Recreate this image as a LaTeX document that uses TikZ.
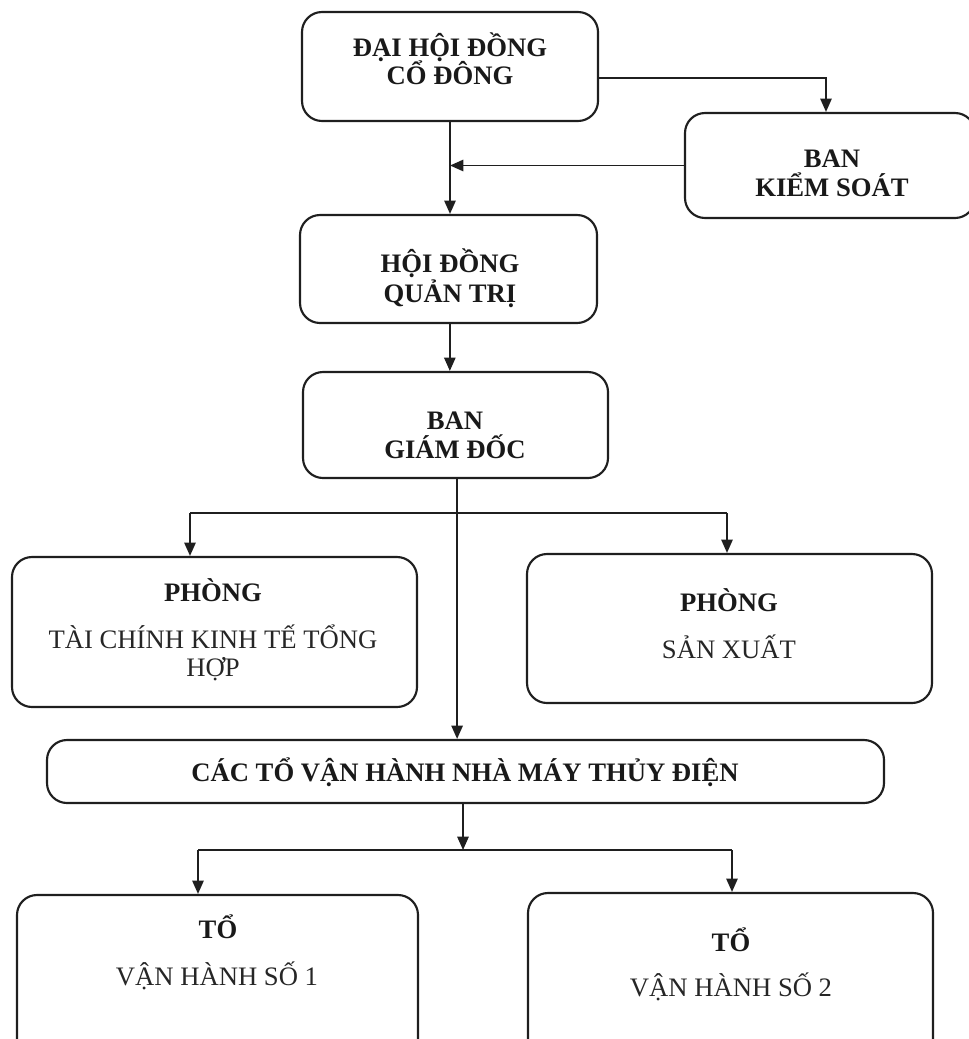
\documentclass[tikz,border=0pt]{standalone}
\usepackage{fontspec}
\setmainfont{Liberation Serif}
\usetikzlibrary{arrows.meta,calc}
\begin{document}
\begin{tikzpicture}[x=0.75pt,y=-0.75pt,
  box/.style={draw=black!88,line width=1.6pt,rounded corners=15pt,inner sep=0pt},
  hd/.style={font=\fontsize{20}{22}\selectfont\bfseries,anchor=base,inner sep=0pt,text=black!90},
  lbl/.style={font=\fontsize{20}{22}\selectfont,anchor=base,inner sep=0pt,text=black!85},
  arr/.style={line width=1.3pt,draw=black!88,-{Triangle[length=10pt,width=8.5pt]}},
  ln/.style={line width=1.3pt,draw=black!88}]
\useasboundingbox (0,0) rectangle (968,1039);
% boxes
\node[box,minimum width=296*0.75pt,minimum height=109*0.75pt] (dh) at (450,66.5) {};
\node[hd] (dh1) at (450,56) {ĐẠI HỘI ĐỒNG};
\node[hd] (dh2) at (450,84) {CỔ ĐÔNG};
\node[box,minimum width=290*0.75pt,minimum height=105*0.75pt] (bks) at (830,165.5) {};
\node[hd] (bks1) at (832,167) {BAN};
\node[hd] (bks2) at (832,196) {KIỂM SOÁT};
\node[box,minimum width=297*0.75pt,minimum height=108*0.75pt] (hdqt) at (448.5,269) {};
\node[hd] (hdqt1) at (450,272) {HỘI ĐỒNG};
\node[hd] (hdqt2) at (450,302) {QUẢN TRỊ};
\node[box,minimum width=305*0.75pt,minimum height=106*0.75pt] (bgd) at (455.5,425) {};
\node[hd] (bgd1) at (455,429) {BAN};
\node[hd] (bgd2) at (455,458) {GIÁM ĐỐC};
\node[box,minimum width=405*0.75pt,minimum height=150*0.75pt] (ptc) at (214.5,632) {};
\node[hd] (ptc1) at (213,601) {PHÒNG};
\node[lbl] (ptc2) at (213,648) {TÀI CHÍNH KINH TẾ TỔNG};
\node[lbl] (ptc3) at (213,676) {HỢP};
\node[box,minimum width=405*0.75pt,minimum height=149*0.75pt] (psx) at (729.5,628.5) {};
\node[hd] (psx1) at (729,611) {PHÒNG};
\node[lbl] (psx2) at (729,658) {SẢN XUẤT};
\node[box,minimum width=837*0.75pt,minimum height=63*0.75pt] (cac) at (465.5,771.5) {};
\node[hd] (cac1) at (465,781) {CÁC TỔ VẬN HÀNH NHÀ MÁY THỦY ĐIỆN};
\node[box,minimum width=401*0.75pt,minimum height=165*0.75pt] (t1) at (217.5,977.5) {};
\node[hd] (t11) at (218,938) {TỔ};
\node[lbl] (t12) at (217,985) {VẬN HÀNH SỐ 1};
\node[box,minimum width=405*0.75pt,minimum height=167*0.75pt] (t2) at (730.5,976.5) {};
\node[hd] (t21) at (731,951) {TỔ};
\node[lbl] (t22) at (731,996) {VẬN HÀNH SỐ 2};
% connectors
\draw[arr] ([yshift=-8.6pt]dh.east) -| ([xshift=-3pt]bks.north);
\draw[arr] (dh.south) -- (dh.south |- hdqt.north);
\draw[arr] (bks.west) -- (bks.west -| dh.south);
\draw[arr] ([xshift=1pt]hdqt.south) -- ([xshift=1pt]hdqt.south |- bgd.north);
\draw[arr] ([xshift=1.2pt]bgd.south) -- ([xshift=1.2pt]bgd.south |- cac.north);
\coordinate (br1) at (190,513);
\coordinate (br2) at (727,513);
\draw[ln] (br1) -- (br2);
\draw[arr] (br1) -- (br1 |- ptc.north);
\draw[arr] (br2) -- (br2 |- psx.north);
\coordinate (sp1) at (198,850);
\coordinate (sp2) at (732,850);
\coordinate (spm) at (463,850);
\draw[arr] (cac.south -| spm) -- (spm);
\draw[ln] (sp1) -- (sp2);
\draw[arr] (sp1) -- (sp1 |- t1.north);
\draw[arr] (sp2) -- (sp2 |- t2.north);
\end{tikzpicture}
\end{document}
